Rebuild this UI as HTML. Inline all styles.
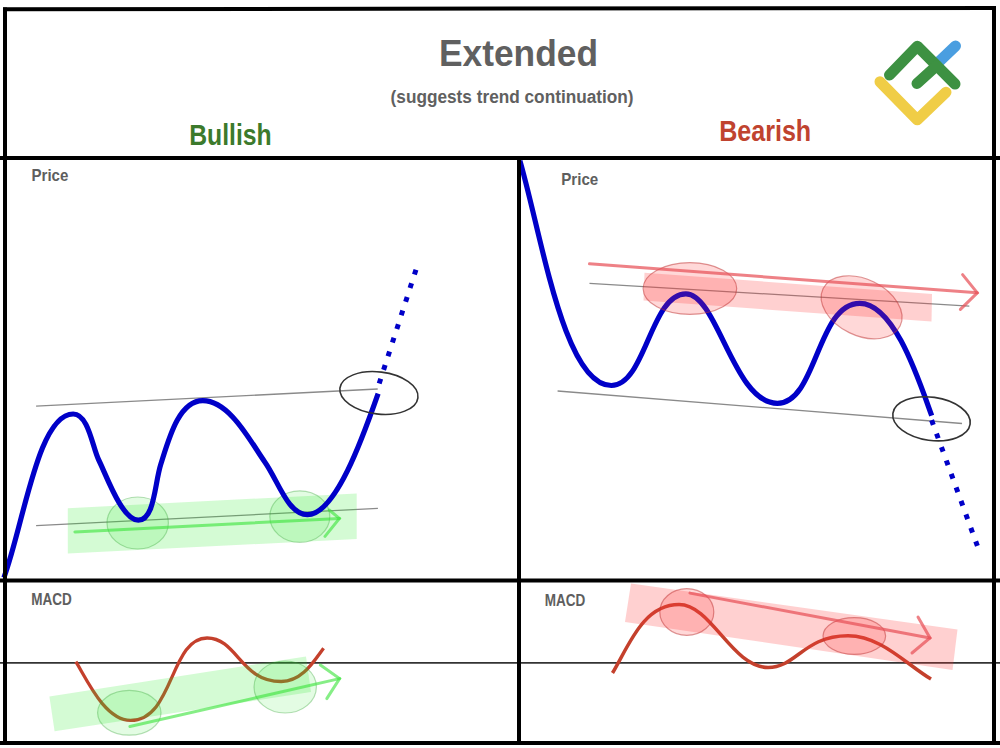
<!DOCTYPE html>
<html><head><meta charset="utf-8"><style>
html,body{margin:0;padding:0;background:#fff;}
svg{display:block;}
text{font-family:"Liberation Sans",sans-serif;font-weight:bold;}
</style></head><body>
<svg width="1000" height="748" viewBox="0 0 1000 748">
<rect width="1000" height="748" fill="#fff"/>
<text x="439" y="66.2" font-size="37.8" fill="#606060" textLength="159" lengthAdjust="spacingAndGlyphs">Extended</text>
<text x="390.6" y="103" font-size="17.5" fill="#606060" textLength="243" lengthAdjust="spacingAndGlyphs">(suggests trend continuation)</text>
<text x="189.2" y="144.6" font-size="29.4" fill="#3c7a2c" textLength="82.5" lengthAdjust="spacingAndGlyphs">Bullish</text>
<text x="719.2" y="141.4" font-size="29.4" fill="#c0432f" textLength="92" lengthAdjust="spacingAndGlyphs">Bearish</text>
<text x="31.5" y="181" font-size="16.7" fill="#5e5e5e" textLength="36.8" lengthAdjust="spacingAndGlyphs">Price</text>
<text x="561.2" y="185.3" font-size="16.7" fill="#5e5e5e" textLength="37.1" lengthAdjust="spacingAndGlyphs">Price</text>
<text x="31.2" y="604.6" font-size="16.3" fill="#5e5e5e" textLength="40.6" lengthAdjust="spacingAndGlyphs">MACD</text>
<text x="544.7" y="605.6" font-size="16.3" fill="#5e5e5e" textLength="40.6" lengthAdjust="spacingAndGlyphs">MACD</text>

<g fill="none" stroke-linecap="round" stroke-linejoin="round" stroke-width="11">
<path d="M937.4,63.3 L955.5,46" stroke="#4a9ee0"/>
<path d="M880,81.8 L917.3,119.8 L946,92.2" stroke="#f0cd46"/>
<path d="M889.5,75 L917.3,46.2 L955,84" stroke="#3d9142"/>
<path d="M917,83.5 L936.6,65.7" stroke="#3d9142"/>
</g>

<!-- left price panel -->
<line x1="36.1" y1="406.2" x2="377.7" y2="389" stroke="#8a8a8a" stroke-width="1.3"/>
<line x1="36.1" y1="525.7" x2="377.9" y2="508.4" stroke="#8a8a8a" stroke-width="1.3"/>
<polygon points="67.8,508.3 356.7,493.4 356.7,538.9 67.8,553.6" fill="rgb(40,235,40)" fill-opacity="0.2"/>
<ellipse cx="137.7" cy="523" rx="30.7" ry="26" fill="rgb(40,235,40)" fill-opacity="0.13" stroke="rgb(50,160,50)" stroke-opacity="0.35" stroke-width="1.2"/>
<ellipse cx="299.8" cy="516.6" rx="30" ry="25.8" fill="rgb(40,235,40)" fill-opacity="0.13" stroke="rgb(50,160,50)" stroke-opacity="0.35" stroke-width="1.2"/>
<g stroke="rgb(60,228,60)" stroke-width="3" fill="none" stroke-linecap="round" stroke-opacity="0.62">
<path d="M74.9,531.9 L339.4,518.4"/>
<path d="M329.2,510 L339.4,518.4 L325,536.4"/>
</g>
<path d="M3.9,577.7 C23.9,523.2 38.0,414.0 73.2,414.0 C88.5,414.0 92.5,447.5 98.5,459.5 C106.5,475.5 122.0,520.2 138.3,520.2 C154.6,520.2 154.6,483.5 160.8,464.3 C168.5,440.0 178.5,400.6 202.8,400.6 C229.8,400.6 250.6,441.9 264.8,461.9 C278.0,480.5 287.9,514.7 307.4,514.7 C335.4,514.7 362.5,438.4 378.1,393.7" fill="none" stroke="#0000c8" stroke-width="5.2" stroke-linecap="butt" stroke-linejoin="round"/>
<path d="M379.2,383.5 L416.0,269.6" stroke="#0000c8" stroke-width="5" stroke-dasharray="5 9.33" fill="none"/>
<ellipse cx="378.9" cy="393" rx="39.3" ry="21" transform="rotate(7 378.9 393)" fill="none" stroke="#333" stroke-width="1.6"/>

<!-- right price panel -->
<line x1="589.5" y1="283.3" x2="969.3" y2="306.2" stroke="#8a8a8a" stroke-width="1.3"/>
<line x1="557.6" y1="391" x2="962" y2="423.5" stroke="#8a8a8a" stroke-width="1.3"/>
<polygon points="644.5,272.8 932,294 931.5,321.5 643.5,300.5" fill="rgb(255,60,60)" fill-opacity="0.24"/>
<path d="M519.9,160.6 C542.0,237.1 564.0,385.5 611.4,385.5 C645.5,385.5 650.6,293.8 685.9,293.8 C717.4,293.8 733.6,403.3 777.4,403.3 C816.9,403.3 817.0,303.3 859.8,303.3 C894.1,303.3 918.5,379.2 931.7,415.7" fill="none" stroke="#0000c8" stroke-width="5.2" stroke-linecap="butt" stroke-linejoin="round"/>
<path d="M931.6,420.1 L977.4,545.9" stroke="#0000c8" stroke-width="5" stroke-dasharray="5 9.33" fill="none"/>
<ellipse cx="689.9" cy="288.5" rx="46.8" ry="25.9" fill="rgb(255,60,60)" fill-opacity="0.2" stroke="rgb(190,50,50)" stroke-opacity="0.5" stroke-width="1.2"/>
<ellipse cx="861.6" cy="307.3" rx="42.8" ry="28.2" transform="rotate(26 861.6 307.3)" fill="rgb(255,60,60)" fill-opacity="0.2" stroke="rgb(190,50,50)" stroke-opacity="0.5" stroke-width="1.2"/>
<g stroke="rgb(232,80,88)" stroke-width="3" fill="none" stroke-linecap="round" stroke-opacity="0.72">
<path d="M589.5,263.8 L977.3,292.8"/>
<path d="M962.6,274.6 L977.3,292.8 L960.4,309.4"/>
</g>
<ellipse cx="931.5" cy="418.8" rx="39" ry="21.6" transform="rotate(8 931.5 418.8)" fill="none" stroke="#333" stroke-width="1.6"/>

<!-- MACD panels -->
<line x1="0" y1="662.8" x2="1000" y2="662.8" stroke="#333" stroke-width="1.8"/>
<path d="M75.9,661.7 C88.3,682.6 105.7,720.4 130.6,720.4 C173.7,720.4 169.9,638.0 207.1,638.0 C237.2,638.0 240.5,681.5 281.2,681.5 C302.6,681.5 314.3,660.5 323.6,648.2" fill="none" stroke="#c4402c" stroke-width="3.3" stroke-linecap="butt"/>
<polygon points="49.4,696.4 306,656.5 311,692 54.6,731.2" fill="rgb(40,235,40)" fill-opacity="0.2"/>
<ellipse cx="129.3" cy="712.8" rx="31.7" ry="22.4" fill="rgb(40,235,40)" fill-opacity="0.13" stroke="rgb(50,160,50)" stroke-opacity="0.35" stroke-width="1.2"/>
<ellipse cx="285.2" cy="687" rx="31.2" ry="26" fill="rgb(40,235,40)" fill-opacity="0.13" stroke="rgb(50,160,50)" stroke-opacity="0.35" stroke-width="1.2"/>
<g stroke="rgb(60,228,60)" stroke-width="3" fill="none" stroke-linecap="round" stroke-opacity="0.62">
<path d="M129.9,726.5 L339.6,678.6"/>
<path d="M320.4,665 L339.6,678.6 L326.8,698.6"/>
</g>

<path d="M612.5,673.0 C628.5,646.6 642.7,604.6 679.1,604.6 C711.3,604.6 732.0,667.5 768.1,667.5 C796.5,667.5 803.9,635.8 848.0,635.8 C880.4,635.8 905.3,663.5 931.0,679.1" fill="none" stroke="#c4402c" stroke-width="3.5" stroke-linecap="butt"/>
<polygon points="631,583.5 957.5,629.5 952.5,670 625,622" fill="rgb(255,60,60)" fill-opacity="0.24"/>
<ellipse cx="686.8" cy="612" rx="27" ry="23.4" fill="rgb(255,60,60)" fill-opacity="0.2" stroke="rgb(190,50,50)" stroke-opacity="0.5" stroke-width="1.2"/>
<ellipse cx="854.3" cy="636" rx="31.3" ry="18.4" fill="rgb(255,60,60)" fill-opacity="0.2" stroke="rgb(190,50,50)" stroke-opacity="0.5" stroke-width="1.2"/>
<g stroke="rgb(232,80,88)" stroke-width="3" fill="none" stroke-linecap="round" stroke-opacity="0.72">
<path d="M690,593.1 L930,638"/>
<path d="M918,617 L930,638 L912,653"/>
</g>

<!-- frame -->
<g stroke="#000" stroke-width="4" fill="none">
<line x1="3" y1="9.2" x2="994" y2="8"/>
<line x1="5" y1="7.5" x2="5" y2="745"/>
<line x1="994" y1="6" x2="994" y2="745"/>
<line x1="0" y1="743" x2="1000" y2="743"/>
<line x1="0" y1="158" x2="1000" y2="158"/>
<line x1="0" y1="580.6" x2="1000" y2="580.6"/>
<line x1="519" y1="156" x2="519" y2="745"/>
</g>
</svg>
</body></html>
